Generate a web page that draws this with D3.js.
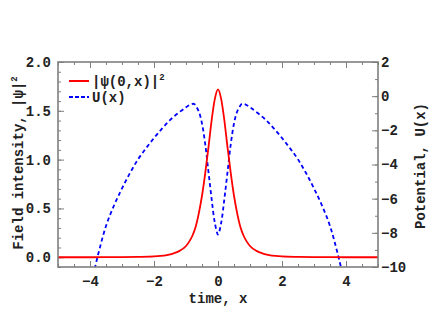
<!DOCTYPE html>
<html lang="en">
<head>
<meta charset="utf-8">
<title>Field intensity and potential</title>
<script src="https://cdn.jsdelivr.net/npm/d3@7/dist/d3.min.js"></script>
<style>
  body { margin: 0; background: #fff; }
  text { font-family: "Liberation Mono", "DejaVu Sans Mono", monospace; font-weight: bold; fill: #222; }
</style>
</head>
<body>
<script>
// intensity |psi(0,x)|^2 (symmetric about 0)
var xInt = [-5, -4, -3, -2.5, -2, -1.8, -1.6, -1.4, -1.2, -1.0, -0.9, -0.8, -0.7, -0.6, -0.5, -0.4, -0.3, -0.2, -0.1,
            0, 0.1, 0.2, 0.3, 0.4, 0.5, 0.6, 0.7, 0.8, 0.9, 1.0, 1.2, 1.4, 1.6, 1.8, 2, 2.5, 3, 4, 5];
var intensity = [0, 0, 0.001, 0.003, 0.008, 0.013, 0.022, 0.038, 0.065, 0.115, 0.16, 0.22, 0.31, 0.45, 0.63, 0.86, 1.12, 1.40, 1.62,
                 1.72, 1.62, 1.40, 1.12, 0.86, 0.63, 0.45, 0.31, 0.22, 0.16, 0.115, 0.065, 0.038, 0.022, 0.013, 0.008, 0.003, 0.001, 0, 0];

// potential U(x)
var xPot = [-4, -3.75, -3.5, -3.25, -3, -2.75, -2.5, -2.25, -2, -1.75, -1.5, -1.25, -1, -0.85, -0.75, -0.7, -0.6, -0.5, -0.4, -0.3, -0.2, -0.1,
            0, 0.1, 0.2, 0.3, 0.4, 0.5, 0.6, 0.7, 0.75, 0.85, 1, 1.25, 1.5, 1.75, 2, 2.25, 2.5, 2.75, 3, 3.25, 3.5, 3.75, 4];
var potential = [-11.3, -9.3, -7.6, -6.4, -5.4, -4.5, -3.7, -3.05, -2.45, -1.9, -1.4, -1.0, -0.65, -0.48, -0.45, -0.55, -0.9, -1.6, -2.8, -4.4, -6.0, -7.4,
                 -8.1, -7.4, -6.0, -4.4, -2.8, -1.6, -0.9, -0.55, -0.45, -0.48, -0.65, -1.0, -1.4, -1.9, -2.45, -3.05, -3.7, -4.5, -5.4, -6.4, -7.6, -9.3, -11.3];

var xTicks = [-4, -2, 0, 2, 4];
var leftTicks = [0, 0.5, 1, 1.5, 2];
var rightTicks = [2, 0, -2, -4, -6, -8, -10];

var w = 436, h = 327;
var pLeft = 58, pRight = 378, pTop = 62, pBottom = 267;
var frameColor = "#7f7f7f";

var svg = d3.select("body").append("svg").attr("width", w).attr("height", h);

var x = d3.scaleLinear().domain([-5, 5]).range([pLeft, pRight]);
var yL = d3.scaleLinear().domain([-0.1, 2]).range([pBottom, pTop]);
var yR = d3.scaleLinear().domain([-10, 2]).range([pBottom, pTop]);

svg.append("clipPath").attr("id", "plotclip")
   .append("rect").attr("x", pLeft).attr("y", pTop).attr("width", pRight - pLeft).attr("height", pBottom - pTop);

function fmt1(d) { return d3.format(".1f")(d); }
function fmtInt(d) { return d < 0 ? "\u2212" + Math.abs(d) : "" + d; }

// inward ticks drawn with d3 axes (negative tick size)
var bottomAxis = d3.axisBottom(x).tickValues(xTicks).tickSize(-6).tickPadding(9).tickFormat(fmtInt);
var bottomMinor = d3.axisBottom(x).tickValues(d3.range(-5, 5.01, 0.5)).tickSize(-3).tickFormat("");
var topAxis = d3.axisTop(x).tickValues(xTicks).tickSize(-6).tickFormat("");
var topMinor = d3.axisTop(x).tickValues(d3.range(-5, 5.01, 0.5)).tickSize(-3).tickFormat("");
var leftAxis = d3.axisLeft(yL).tickValues(leftTicks).tickSize(-6).tickPadding(7).tickFormat(fmt1);
var leftMinor = d3.axisLeft(yL).tickValues(d3.range(-0.1, 2.01, 0.1)).tickSize(-3).tickFormat("");
var rightAxis = d3.axisRight(yR).tickValues(rightTicks).tickSize(-6).tickPadding(4).tickFormat(fmtInt);
var rightMinor = d3.axisRight(yR).tickValues(d3.range(-10, 2.01, 1)).tickSize(-3).tickFormat("");

function styleAxis(g) {
  g.select(".domain").remove();
  g.selectAll("line").attr("stroke", frameColor).attr("stroke-width", 1);
  g.selectAll("text").attr("font-size", 14).attr("fill", "#222")
   .attr("font-family", "'Liberation Mono', monospace").attr("font-weight", "bold");
}

svg.append("g").attr("transform", "translate(0," + pBottom + ")").call(bottomMinor).call(styleAxis);
svg.append("g").attr("transform", "translate(0," + pBottom + ")").call(bottomAxis).call(styleAxis);
svg.append("g").attr("transform", "translate(0," + pTop + ")").call(topMinor).call(styleAxis);
svg.append("g").attr("transform", "translate(0," + pTop + ")").call(topAxis).call(styleAxis);
svg.append("g").attr("transform", "translate(" + pLeft + ",0)").call(leftMinor).call(styleAxis);
svg.append("g").attr("transform", "translate(" + pLeft + ",0)").call(leftAxis).call(styleAxis);
svg.append("g").attr("transform", "translate(" + pRight + ",0)").call(rightMinor).call(styleAxis);
var ra = svg.append("g").attr("transform", "translate(" + pRight + ",0)").call(rightAxis).call(styleAxis);
ra.selectAll(".tick text").attr("x", 3);

// curves
var plot = svg.append("g").attr("clip-path", "url(#plotclip)");

var lineInt = d3.line()
  .x(function(d, i) { return x(xInt[i]); })
  .y(function(d) { return yL(d); })
  .curve(d3.curveMonotoneX);

var linePot = d3.line()
  .x(function(d, i) { return x(xPot[i]); })
  .y(function(d) { return yR(d); })
  .curve(d3.curveCatmullRom);

plot.append("path").datum(potential)
    .attr("d", linePot).attr("fill", "none")
    .attr("stroke", "#0000ff").attr("stroke-width", 1.8).attr("stroke-dasharray", "4,3");

plot.append("path").datum(intensity)
    .attr("d", lineInt).attr("fill", "none")
    .attr("stroke", "#ff0000").attr("stroke-width", 1.8);

// frame
svg.append("rect")
   .attr("x", pLeft).attr("y", pTop).attr("width", pRight - pLeft).attr("height", pBottom - pTop)
   .attr("fill", "none").attr("stroke", frameColor).attr("stroke-width", 1.6);

// legend
var lg = svg.append("g");
lg.append("line").attr("x1", 69).attr("x2", 89).attr("y1", 81).attr("y2", 81)
  .attr("stroke", "#ff0000").attr("stroke-width", 2);
lg.append("line").attr("x1", 69).attr("x2", 89).attr("y1", 97).attr("y2", 97)
  .attr("stroke", "#0000ff").attr("stroke-width", 2).attr("stroke-dasharray", "4,2");
var t1 = lg.append("text").attr("x", 92).attr("y", 86).attr("font-size", 14);
t1.append("tspan").text("|\u03c8(0,x)|");
t1.append("tspan").attr("font-size", 9).attr("dy", -6).text("2");
lg.append("text").attr("x", 92).attr("y", 102).attr("font-size", 14).text("U(x)");

// axis titles
svg.append("text").attr("x", 218).attr("y", 303).attr("text-anchor", "middle")
   .attr("font-size", 14).text("time, x");

var yt = svg.append("text").attr("transform", "translate(23,163) rotate(-90)")
   .attr("text-anchor", "middle").attr("font-size", 14);
yt.append("tspan").text("Field intensity, |\u03c8|");
yt.append("tspan").attr("font-size", 9).attr("dy", -6).text("2");

svg.append("text").attr("transform", "translate(425,166) rotate(-90)")
   .attr("text-anchor", "middle").attr("font-size", 14).text("Potential, U(x)");
</script>
</body>
</html>
